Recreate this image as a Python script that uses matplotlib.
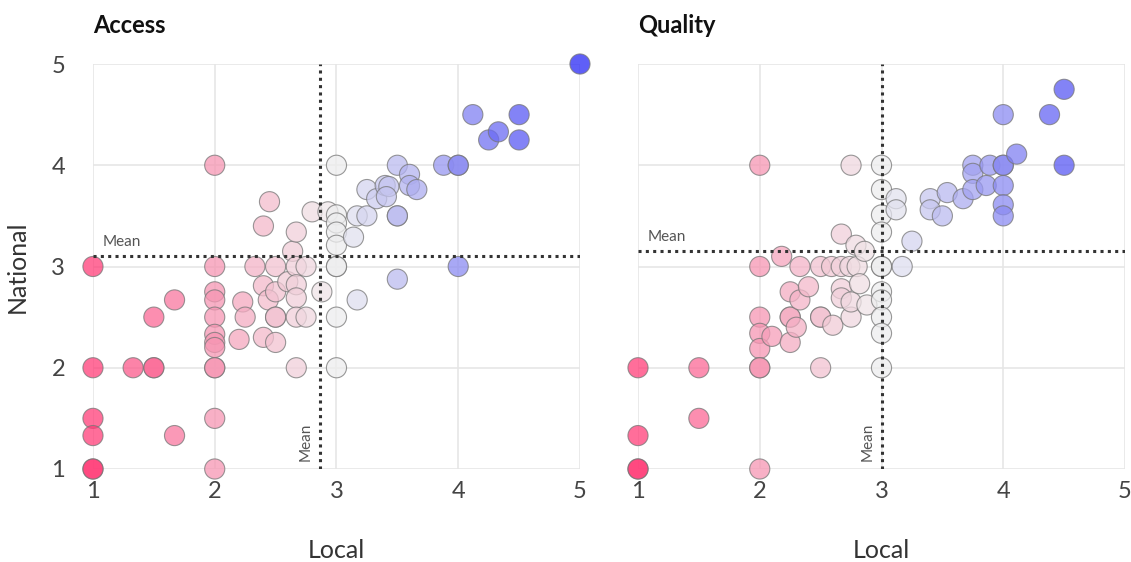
import matplotlib.pyplot as plt
from matplotlib.colors import LinearSegmentedColormap
import numpy as np

# Access scores (local, national)
accessLocal = [1, 1, 1, 1, 1, 1,
               1.33, 1.5, 1.5, 1.5, 1.67, 1.67,
               2, 2, 2, 2, 2, 2, 2, 2, 2, 2, 2, 2,
               2.2, 2.23, 2.25, 2.33, 2.4, 2.4, 2.4, 2.44, 2.45, 2.5, 2.5, 2.5, 2.5, 2.5,
               2.6, 2.64, 2.67, 2.67, 2.67, 2.67, 2.67, 2.67, 2.75, 2.75, 2.8, 2.88,
               2.93, 3, 3, 3, 3, 3, 3, 3, 3, 3,
               3.14, 3.17, 3.17, 3.25, 3.25, 3.33, 3.4, 3.43, 3.41,
               3.5, 3.5, 3.5, 3.5, 3.6, 3.6, 3.66,
               3.88, 4, 4, 4, 4.12, 4.25, 4.33, 4.5, 4.5, 5]
accessNational = [3, 2, 1.5, 1.33, 1, 1,
                  2, 2, 2, 2.5, 2.67, 1.33,
                  4, 3, 2.75, 2.67, 2.5, 2.33, 2.25, 2.2, 2, 2, 1.5, 1,
                  2.28, 2.65, 2.5, 3, 2.81, 2.3, 3.4, 2.67, 3.64, 3, 2.75, 2.5, 2.5, 2.25,
                  2.85, 3.15, 3.34, 3, 2.82, 2.69, 2.5, 2, 3, 2.5, 3.54, 2.75,
                  3.54, 4, 3.51, 3.43, 3.34, 3.21, 3, 3, 2.5, 2,
                  3.29, 3.5, 2.67, 3.76, 3.5, 3.67, 3.8, 3.79, 3.69,
                  4, 3.5, 3.5, 2.875, 3.91, 3.8, 3.76,
                  4, 4, 4, 3, 4.5, 4.25, 4.33, 4.5, 4.25, 5]
accessMeanLocal = 2.865
accessMeanNational = 3.104

# Quality scores (local, national)
qualityLocal = [1, 1, 1, 1, 1.5, 1.5,
                2, 2, 2, 2, 2, 2, 2, 2,
                2.1, 2.18, 2.25, 2.25, 2.25, 2.25, 2.3, 2.33, 2.33, 2.4,
                2.5, 2.5, 2.5, 2.5, 2.59, 2.6, 2.67, 2.67, 2.67, 2.67, 2.74, 2.75, 2.75,
                2.75, 2.79, 2.8, 2.82, 2.86, 2.88,
                3, 3, 3, 3, 3, 3, 3, 3, 3, 3, 3,
                3.12, 3.12, 3.17, 3.25, 3.4, 3.4, 3.5, 3.54, 3.67, 3.75, 3.75, 3.75,
                3.86, 3.89, 4, 4, 4, 4, 4, 4, 4.11, 4.38, 4.5, 4.5]
qualityNational = [2, 1.33, 1, 1, 2, 1.5,
                   4, 3, 2.5, 2.34, 2.19, 2, 2, 1,
                   2.31, 3.1, 2.75, 2.5, 2.5, 2.25, 2.4, 3, 2.67, 2.8,
                   3, 2.5, 2.5, 2, 3, 2.42, 3.32, 3, 2.78, 2.69, 3, 4, 2.5,
                   2.65, 3.21, 3, 2.83, 3.15, 2.62,
                   4, 3.76, 3.51, 3.34, 3, 3, 2.75, 2.67, 2.5, 2.34, 2,
                   3.67, 3.56, 3, 3.25, 3.67, 3.56, 3.5, 3.73, 3.67, 4, 3.92, 3.76,
                   3.8, 4, 4, 4, 3.8, 3.61, 3.5, 4.5, 4.11, 4.5, 4.75, 4]
qualityMeanLocal = 3.0
qualityMeanNational = 3.153

panels = [('Access', accessLocal, accessNational, accessMeanLocal, accessMeanNational),
          ('Quality', qualityLocal, qualityNational, qualityMeanLocal, qualityMeanNational)]

plt.rcParams['font.family'] = ['Lato', 'DejaVu Sans']
cmap = LinearSegmentedColormap.from_list('pinkblue', ['#ff3d78', '#eeeeee', '#2a2af5'])

fig = plt.figure(figsize=(11.31, 5.62), dpi=100)
lefts = [0.0822, 0.5641]

for i, (title, local, national, meanX, meanY) in enumerate(panels):
    ax = fig.add_axes([lefts[i], 0.1655, 0.4306, 0.7206])
    ax.set_xlim(1, 5)
    ax.set_ylim(1, 5)
    for s in ax.spines.values():
        s.set_visible(False)
    ax.grid(True, color='#e6e6e6', linewidth=1.2)
    ax.set_axisbelow(True)
    ax.tick_params(length=0, labelsize=17, labelcolor='#444444')
    ax.tick_params(axis='x', pad=9)
    ax.tick_params(axis='y', pad=20)
    ax.set_xticks([1, 2, 3, 4, 5])
    ax.set_yticks([1, 2, 3, 4, 5])
    if i == 1:
        ax.set_yticklabels([])
    else:
        ax.set_ylabel('National', fontsize=18, color='#333333', labelpad=16)
    ax.set_xlabel('Local', fontsize=18, color='#333333', labelpad=26)
    ax.set_title(title, loc='left', fontsize=17, fontweight='bold', color='#111111', pad=22)

    ax.scatter(local, national, c=local, cmap=cmap, vmin=1, vmax=5, s=210,
               alpha=0.75, edgecolors='#777777', linewidths=0.8, clip_on=False, zorder=3)

    ax.axvline(meanX, color='#333333', linestyle=(0, (1, 1.4)), linewidth=2.2, zorder=4)
    ax.axhline(meanY, color='#333333', linestyle=(0, (1, 1.4)), linewidth=2.2, zorder=4)
    ax.text(1.08, meanY + 0.07, 'Mean', fontsize=11, color='#555555', ha='left', va='bottom')
    ax.text(meanX - 0.06, 1.08, 'Mean', fontsize=11, color='#555555', rotation=90,
            ha='right', va='bottom')

plt.savefig('out.png', dpi=100)
